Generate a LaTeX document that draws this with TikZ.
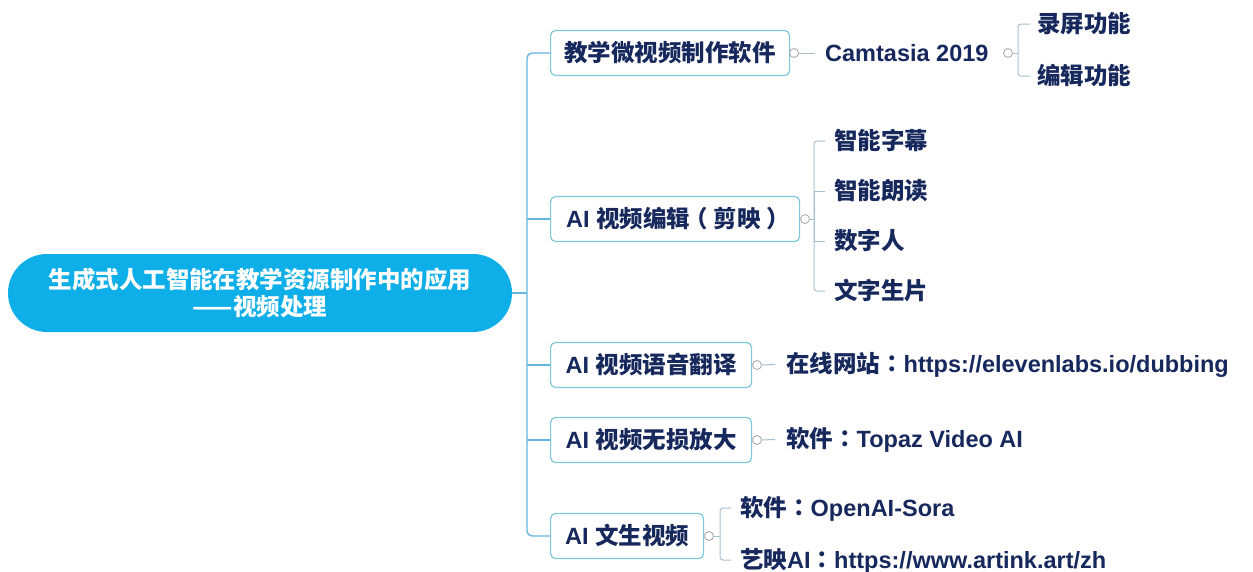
\documentclass[tikz,border=0pt]{standalone}
\usepackage{fontspec}
\setmainfont{Liberation Sans}
\newfontfamily\cjk{Noto Sans CJK SC}
\newfontfamily\cjkp{Noto Sans CJK TC}
\definecolor{rootc}{RGB}{14,174,232}
\definecolor{navy}{RGB}{22,40,92}
\definecolor{boxc}{RGB}{125,200,218}
\definecolor{linec}{RGB}{100,182,226}
\definecolor{subc}{RGB}{165,192,208}
\definecolor{togc}{RGB}{165,165,165}
\tikzset{
  txt/.style={font=\fontsize{23.5}{30}\selectfont\bfseries, text=navy},
  branch/.style={txt, draw=boxc, line width=1.2pt, fill=white, rounded corners=5pt,
    minimum height=45pt, anchor=west, inner sep=0pt, text height=17pt, text depth=0pt},
  leaf/.style={txt, anchor=west, inner sep=0pt, text height=17pt, text depth=0pt},
  conn/.style={draw=linec, line width=1.4pt},
  sub/.style={draw=subc, line width=1pt},
  tog/.style={circle, draw=togc, line width=0.8pt, minimum size=9pt, inner sep=0pt, fill=white}
}
\begin{document}
\begin{tikzpicture}[x=1pt,y=-1pt]
\useasboundingbox (0,0) rectangle (1253,571);
% root
\node[fill=rootc, rounded corners=39pt, minimum width=504pt, minimum height=78pt,
  font=\fontsize{23.5}{27}\selectfont\bfseries, text=white, align=center, inner sep=0pt]
  (root) at (260,293) {\cjk 生成式人工智能在教学资源制作中的应用\\\cjk ——视频处理};
% branches
\node[branch, minimum width=239pt] (b1) at (550,53) {\cjk 教学微视频制作软件};
\node[branch, minimum width=249pt] (b2) at (550,219) {AI {\cjk 视频编辑\kern-6pt （\kern6pt 剪映\kern6pt ）\kern-6pt}};
\node[branch, minimum width=201pt] (b3) at (550,365) {AI {\cjk 视频语音翻译}};
\node[branch, minimum width=201pt] (b4) at (550,440) {AI {\cjk 视频无损放大}};
\node[branch, minimum width=153pt] (b5) at (550,536) {AI {\cjk 文生视频}};
% toggles
\node[tog] (t1) at (794,53) {};
\node[tog] (t2) at (805,219) {};
\node[tog] (t3) at (757,365) {};
\node[tog] (t4) at (757,440) {};
\node[tog] (t5) at (709,536) {};
% leaves
\node[leaf] (cam) at (825,53) {Camtasia 2019};
\node[tog] (tc) at (1008,53) {};
\node[leaf] (rec) at (1037,24) {\cjk 录屏功能};
\node[leaf] (edt) at (1037,76) {\cjk 编辑功能};
\node[leaf] (l21) at (834,141) {\cjk 智能字幕};
\node[leaf] (l22) at (834,191) {\cjk 智能朗读};
\node[leaf] (l23) at (834,241) {\cjk 数字人};
\node[leaf] (l24) at (834,291) {\cjk 文字生片};
\node[leaf] (l3) at (786,364) {{\cjk 在线网站}{\cjkp ：}https://elevenlabs.io/dubbing};
\node[leaf] (l4) at (786,439) {{\cjk 软件}{\cjkp ：}Topaz Video AI};
\node[leaf] (l51) at (740,508) {{\cjk 软件}{\cjkp ：}OpenAI-Sora};
\node[leaf] (l52) at (740,560) {{\cjk 艺映}AI{\cjkp ：}https://www.artink.art/zh};
% trunk
\coordinate (tk0) at (527,293);
\coordinate (tk1) at (527,53);
\coordinate (tk2) at (527,219);
\coordinate (tk3) at (527,365);
\coordinate (tk4) at (527,440);
\coordinate (tk5) at (527,536);
\draw[conn] (root.east) -- (tk0);
\draw[conn, rounded corners=5pt] (b1.west) -- (tk1) -- (tk5) -- (b5.west);
\draw[conn] (tk2) -- (b2.west);
\draw[conn] (tk3) -- (b3.west);
\draw[conn] (tk4) -- (b4.west);
% second level
\draw[sub, shorten >=10pt] (t1.east) -- (cam.west);
\draw[sub, shorten >=11pt] (t3.east) -- (l3.west);
\draw[sub, shorten >=11pt] (t4.east) -- (l4.west);
% brackets
\coordinate (j1) at (1018,53);
\draw[sub] (tc.east) -- (j1);
\draw[sub, rounded corners=3pt, shorten >=7pt] (j1) |- (rec.west);
\draw[sub, rounded corners=3pt, shorten >=7pt] (j1) |- (edt.west);
\coordinate (j2) at (814,219);
\draw[sub] (t2.east) -- (j2);
\draw[sub, rounded corners=3pt, shorten >=9pt] (j2) |- (l21.west);
\draw[sub, shorten >=9pt] (j2) |- (l22.west);
\draw[sub, shorten >=9pt] (j2) |- (l23.west);
\draw[sub, rounded corners=3pt, shorten >=9pt] (j2) |- (l24.west);
\coordinate (j5) at (720,536);
\draw[sub] (t5.east) -- (j5);
\draw[sub, rounded corners=3pt, shorten >=9pt] (j5) |- (l51.west);
\draw[sub, rounded corners=3pt, shorten >=9pt] (j5) |- (l52.west);
\end{tikzpicture}
\end{document}
